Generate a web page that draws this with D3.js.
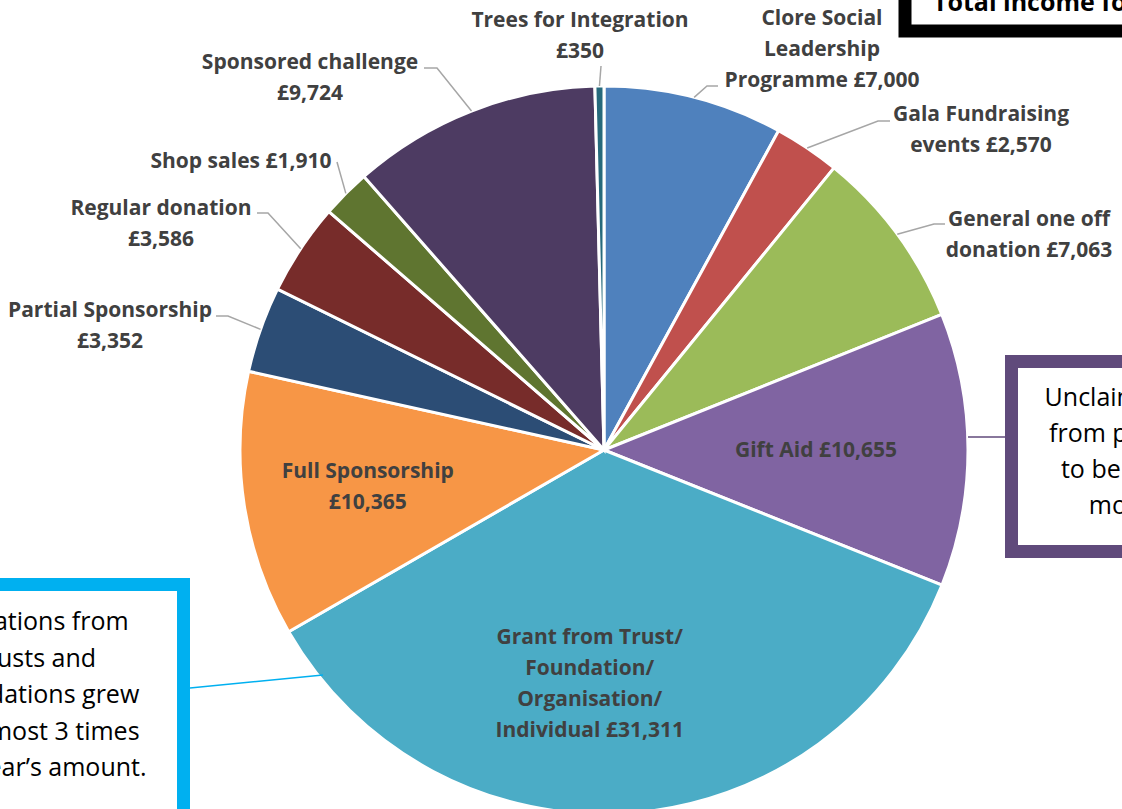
<!DOCTYPE html>
<html>
<head>
<meta charset="utf-8">
<script src="https://cdn.jsdelivr.net/npm/d3@7"></script>
<style>
  body { margin: 0; background: #fff; }
  svg { display: block; }
  text { font-family: "Open Sans", Lato, sans-serif; }
</style>
</head>
<body>
<svg width="1122" height="809"></svg>
<script>
var categories = ["Clore Social Leadership Programme", "Gala Fundraising events", "General one off donation",
                  "Gift Aid", "Grant from Trust/Foundation/Organisation/Individual", "Full Sponsorship",
                  "Partial Sponsorship", "Regular donation", "Shop sales", "Sponsored challenge", "Trees for Integration"];
var values = [7000, 2570, 7063, 10655, 31311, 10365, 3352, 3586, 1910, 9724, 350];
var colors = ["#4f81bd", "#c0504d", "#9bbb59", "#8064a2", "#4bacc6", "#f79646",
              "#2c4d75", "#772c2a", "#5f7530", "#4d3b62", "#276a7c"];
// how each label is wrapped, {v} = the amount
var labelLines = [
  ["Clore Social", "Leadership", "Programme {v}"],
  ["Gala Fundraising", "events {v}"],
  ["General one off", "donation  {v}"],
  ["Gift Aid {v}"],
  ["Grant from Trust/", "Foundation/", "Organisation/", "Individual {v}"],
  ["Full Sponsorship", "{v}"],
  ["Partial Sponsorship", "{v}"],
  ["Regular donation", "{v}"],
  ["Shop sales {v}"],
  ["Sponsored challenge", "{v}"],
  ["Trees for Integration", "{v}"]
];

// label layout (kept apart from the data)
var layout = [
  {x: 822, y: 17, leader: [[707, 86], [718, 86]]},
  {x: 981, y: 113, leader: [[878, 121], [890, 121]]},
  {x: 1029, y: 218, leader: [[934, 224], [945, 224]]},
  {inside: 212, dx: 0},
  {inside: 234, dx: -31},
  {inside: 239, dx: 0},
  {x: 110, y: 309, leader: [[228, 316], [216, 316]]},
  {x: 161, y: 207, leader: [[268, 213], [257, 213]]},
  {x: 241, y: 160, leader: [[337, 162]]},
  {x: 310, y: 61, leader: [[437, 68], [424, 68]]},
  {x: 580, y: 19, leader: [[601, 66]]}
];

var svg = d3.select("svg"),
    cx = 604, cy = 450, radius = 364,
    lineH = 31,
    fmt = d3.format(",");

svg.append("rect").attr("width", 1122).attr("height", 809).attr("fill", "#fff");

var data = categories.map(function(c, i) { return {name: c, value: values[i], idx: i}; });

var pie = d3.pie().sort(null).value(function(d) { return d.value; });
var arc = d3.arc().innerRadius(0).outerRadius(radius);
var arcs = pie(data);

var g = svg.append("g").attr("transform", "translate(" + cx + "," + cy + ")");

g.selectAll("path.slice")
  .data(arcs)
  .enter().append("path")
  .attr("class", "slice")
  .attr("d", arc)
  .attr("fill", function(d) { return colors[d.data.idx]; })
  .attr("stroke", "#fff")
  .attr("stroke-width", 3);

// leader lines + labels
arcs.forEach(function(a) {
  var i = a.data.idx, L = layout[i];
  var lines = labelLines[i].map(function(s) { return s.replace("{v}", "£" + fmt(a.data.value)); });
  var mid = (a.startAngle + a.endAngle) / 2;
  var tx, ty;
  if (L.inside) {
    var la = d3.arc().innerRadius(L.inside).outerRadius(L.inside).centroid(a);
    tx = cx + la[0] + L.dx;
    ty = cy + la[1] - (lines.length - 1) * lineH / 2;
  } else {
    var p0 = [cx + Math.sin(mid) * radius, cy - Math.cos(mid) * radius];
    svg.append("polyline")
      .attr("points", [p0].concat(L.leader).map(function(p) { return p.join(","); }).join(" "))
      .attr("fill", "none")
      .attr("stroke", "#a6a6a6")
      .attr("stroke-width", 1.5);
    tx = L.x;
    ty = L.y;
  }
  var t = svg.append("text")
    .attr("text-anchor", "middle")
    .attr("font-size", 21)
    .attr("font-weight", "bold")
    .attr("fill", "#404040");
  lines.forEach(function(s, k) {
    t.append("tspan").attr("x", tx).attr("y", ty + k * lineH + 7.5).text(s);
  });
});

// annotation boxes
function box(x, y, w, h, stroke, sw) {
  svg.append("rect").attr("x", x).attr("y", y).attr("width", w).attr("height", h)
    .attr("fill", "#fff").attr("stroke", stroke).attr("stroke-width", sw);
}

// top right: total
box(905, -40, 300, 71, "#000", 13);
svg.append("text").attr("x", 933).attr("y", 11)
  .attr("font-size", 25).attr("font-weight", "bold").attr("fill", "#000")
  .text("Total income for 2019/20: £87,886");

// right: gift aid note
svg.append("line").attr("x1", 968).attr("y1", 437).attr("x2", 1005).attr("y2", 437)
  .attr("stroke", "#604a7b").attr("stroke-width", 1.5);
box(1011.5, 361.5, 260, 190, "#604a7b", 13);
var noteR = ["Unclaimed Gift", "from previous", "to be added", "month."];
var tr = svg.append("text").attr("text-anchor", "middle").attr("font-size", 25).attr("fill", "#000");
noteR.forEach(function(s, k) {
  tr.append("tspan").attr("x", 1131).attr("y", 406 + k * 36).text(s);
});

// left: grant note
svg.append("line").attr("x1", 190).attr("y1", 688).attr("x2", 323).attr("y2", 675)
  .attr("stroke", "#00b0f0").attr("stroke-width", 1.5);
box(-40, 584.5, 223.5, 260, "#00b0f0", 13);
var noteL = ["Donations from", "trusts and", "foundations grew", "by almost 3 times", "last year's amount."];
var tl = svg.append("text").attr("text-anchor", "middle").attr("font-size", 25).attr("fill", "#000");
noteL.forEach(function(s, k) {
  tl.append("tspan").attr("x", 37).attr("y", 630 + k * 36.5).text(s.replace("'", "\u2019"));
});
</script>
</body>
</html>
